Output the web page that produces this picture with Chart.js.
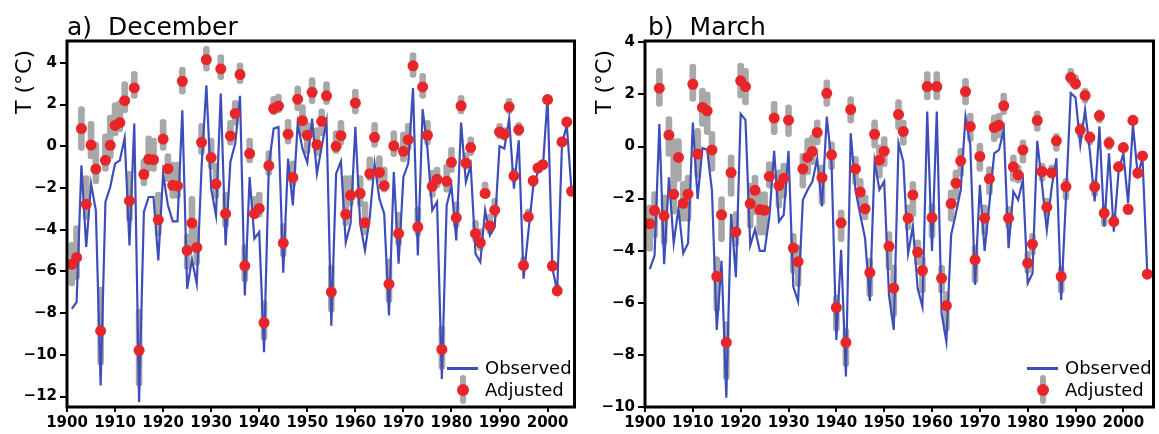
<!DOCTYPE html>
<html>
<head>
<meta charset="utf-8">
<script src="https://cdn.jsdelivr.net/npm/chart.js@4.4.1/dist/chart.umd.min.js"></script>
<style>
  html, body { margin:0; padding:0; background:#fff; }
  #wrap { position:relative; width:1159px; height:434px; overflow:hidden; font-family:"DejaVu Sans", sans-serif; color:#000; }
  .panel { position:absolute; top:0; height:434px; }
  .title { position:absolute; top:14px; font-size:25px; line-height:25px; white-space:nowrap; word-spacing:8px; }
  .ylab { position:absolute; font-size:22px; line-height:22px; white-space:nowrap; transform:translate(-50%,-50%) rotate(-90deg); }
  .legtxt { position:absolute; font-size:18px; line-height:18px; white-space:nowrap; }
  .legline { position:absolute; height:3px; background:#3d4eb8; }
  .leggrey { position:absolute; width:6px; border-radius:3px; background:#a8a8a8; }
  .legdot { position:absolute; width:12px; height:12px; border-radius:6px; background:#e8262a; }
</style>
</head>
<body>
<div id="wrap">
  <div class="panel" style="left:0;width:580px"><canvas id="c1" width="580" height="434"></canvas></div>
  <div class="panel" style="left:580px;width:579px"><canvas id="c2" width="579" height="434"></canvas></div>

  <div class="title" style="left:67px">a) December</div>
  <div class="title" style="left:648px">b) March</div>
  <div class="ylab" style="left:24px;top:82px">T (°C)</div>
  <div class="ylab" style="left:604px;top:82px">T (°C)</div>

  <div class="legline" style="left:447px;top:367px;width:31px"></div>
  <div class="legtxt" style="left:485px;top:359px">Observed</div>
  <div class="leggrey" style="left:460px;top:375px;height:29px"></div>
  <div class="legdot" style="left:457px;top:384px"></div>
  <div class="legtxt" style="left:485px;top:381px">Adjusted</div>

  <div class="legline" style="left:1027px;top:367px;width:31px"></div>
  <div class="legtxt" style="left:1065px;top:359px">Observed</div>
  <div class="leggrey" style="left:1040px;top:375px;height:29px"></div>
  <div class="legdot" style="left:1037px;top:384px"></div>
  <div class="legtxt" style="left:1065px;top:381px">Adjusted</div>
</div>
<script>
// ---------- DATA ----------
const years = [];
for (let y = 1901; y <= 2005; y++) years.push(y);

// December (panel a)
const decAdjusted = [
 -5.66,-5.33,0.85,-2.78,0.06,-1.09,-8.85,-0.67,0.05,1.0,
 1.14,2.19,-2.62,2.8,-9.78,-1.34,-0.62,-0.64,-3.52,0.35,
 -1.07,-1.87,-1.9,3.12,-4.99,-3.68,-4.85,0.19,4.16,-0.54,
 -1.81,3.71,-3.23,0.5,1.57,3.44,-5.73,-0.35,-3.23,-2.98,
 -8.46,-0.93,1.81,1.93,-4.64,0.58,-1.5,2.26,1.23,0.53,
 2.59,0.08,1.2,2.42,-6.99,0.0,0.51,-3.26,-2.35,2.08,
 -2.26,-3.66,-1.31,0.43,-1.25,-1.89,-6.61,0.02,-4.18,-0.24,
 0.32,3.86,-3.87,2.85,0.53,-1.92,-1.58,-9.74,-1.68,-0.77,
 -3.42,1.94,-0.8,-0.06,-4.19,-4.62,-2.26,-3.82,-3.06,0.69,
 0.58,1.89,-1.42,0.8,-5.71,-3.38,-1.65,-1.04,-0.88,2.24,
 -5.74,-6.93,0.21,1.17,-2.16
];
const decObserved = [
 -7.8,-7.47,-0.91,-4.83,-1.79,-3.07,-11.47,-2.67,-1.95,-0.83,
 -0.67,0.4,-4.75,1.09,-12.27,-3.15,-2.43,-2.43,-5.47,-1.31,
 -2.83,-3.6,-3.6,1.73,-6.83,-5.42,-6.59,-1.0,2.93,-2.03,
 -3.31,2.53,-4.75,-0.75,0.13,2.42,-7.15,-1.47,-4.43,-4.11,
 -9.87,-0.91,0.85,0.93,-6.06,-0.59,-2.83,1.09,-0.11,-0.78,
 1.33,-1.31,0.0,1.2,-8.6,-1.31,-0.72,-4.62,-3.71,0.93,
 -3.71,-4.99,-3.39,-0.83,-2.51,-3.23,-8.11,-1.23,-5.63,-1.47,
 -0.83,2.8,-5.23,1.78,-0.11,-3.07,-2.67,-11.15,-2.83,-1.9,
 -4.51,1.14,-1.71,-0.91,-5.15,-5.55,-3.07,-4.27,-3.87,0.0,
 -0.11,1.33,-2.03,0.29,-6.35,-4.11,-1.95,-1.23,-1.07,2.37,
 -5.87,-6.91,0.13,1.0,-2.19
];
const decEnsLow = [
 -6.7,-6.4,-0.2,-3.5,-0.6,-1.8,-10.5,-1.2,-0.6,0.5,
 0.7,1.6,-3.6,2.3,-11.5,-1.9,-1.2,-1.2,-4.3,-0.2,
 -1.7,-2.5,-2.5,2.5,-5.9,-4.9,-5.7,-0.4,3.6,-1.1,
 -2.5,3.2,-3.9,0.05,1.0,3.0,-6.5,-0.8,-3.4,-3.4,
 -9.3,-1.4,1.5,1.6,-5.3,0.1,-1.95,1.7,0.5,-0.35,
 2.05,-0.45,0.5,2.0,-7.95,-0.35,0.05,-3.8,-2.85,1.55,
 -2.9,-4.25,-1.65,-0.05,-1.7,-2.2,-7.5,-0.5,-4.75,-0.75,
 -0.2,3.3,-4.3,2.3,0.05,-2.45,-2.0,-10.7,-2.2,-1.25,
 -3.9,1.55,-1.1,-0.45,-4.6,-5.0,-2.5,-4.2,-3.4,0.35,
 0.3,1.55,-1.7,0.5,-5.95,-3.6,-1.95,-1.2,-1.05,2.05,
 -5.95,-7.15,0.05,0.9,-2.35
];
const decEnsHigh = [
 -4.6,-3.8,1.9,-1.4,1.2,0.2,-6.75,0.6,1.5,2.1,
 2.2,3.1,-1.2,3.6,-7.8,-0.6,0.5,0.4,-2.2,1.3,
 -0.35,-0.75,-0.75,3.8,-4.2,-2.4,-3.8,1.1,4.8,0.4,
 -0.8,4.4,-2.2,1.25,2.2,4.0,-4.7,0.4,-2.4,-2.2,
 -7.4,-0.2,2.4,2.5,-3.7,1.3,-0.7,2.9,2.0,1.15,
 3.3,0.9,1.8,3.1,-5.7,0.75,1.25,-1.4,-1.4,2.75,
 -1.4,-2.65,-0.5,1.15,-0.45,-1.0,-5.4,0.75,-3.15,0.7,
 1.1,4.5,-2.9,3.5,1.25,-1.15,-1.0,-8.6,-0.85,-0.05,
 -2.65,2.45,-0.3,0.45,-3.55,-3.95,-1.7,-3.25,-2.5,1.1,
 0.9,2.3,-1.05,1.15,-5.3,-3.0,-1.4,-0.8,-0.65,2.45,
 -5.45,-6.6,0.45,1.4,-1.95
];

// March (panel b)
const marAdjusted = [
 -2.97,-2.46,2.24,-2.66,0.44,-1.83,-0.42,-2.18,-1.83,2.39,
 -0.29,1.5,1.37,-0.13,-4.99,-2.62,-7.52,-1.0,-3.28,2.52,
 2.3,-2.19,-1.68,-2.42,-2.45,-1.15,1.09,-1.5,-1.22,1.01,
 -3.9,-4.42,-0.86,-0.42,-0.19,0.54,-1.19,2.04,-0.32,-6.18,
 -2.93,-7.52,1.42,-0.86,-1.75,-2.39,-4.84,0.47,-0.52,-0.18,
 -3.83,-5.44,1.23,0.58,-2.75,-1.86,-4.06,-4.76,2.3,-2.73,
 2.3,-5.06,-6.11,-2.19,-1.41,-0.55,2.11,0.77,-4.35,-0.38,
 -2.75,-1.24,0.73,0.82,1.56,-2.75,-0.78,-1.09,-0.13,-4.48,
 -3.75,1.0,-0.96,-2.33,-1.01,0.22,-4.99,-1.54,2.65,2.41,
 0.63,1.96,0.35,-1.55,1.18,-2.56,0.13,-2.88,-0.78,-0.04,
 -2.41,1.0,-1.02,-0.36,-4.9
];
const marObserved = [
 -4.71,-4.19,0.86,-4.52,-1.18,-3.71,-2.37,-4.1,-3.71,0.92,
 -2.01,-0.06,-0.13,-1.7,-7.04,-4.39,-9.64,-2.59,-5.02,1.25,
 1.02,-3.8,-3.18,-4.01,-4.01,-2.7,-0.17,-2.88,-2.62,-0.17,
 -5.38,-5.95,-2.05,-1.66,-1.34,-0.47,-2.3,1.15,-0.64,-7.43,
 -3.97,-8.83,0.51,-1.66,-2.62,-3.52,-5.93,-0.58,-1.66,-1.34,
 -5.7,-7.04,0.13,-0.58,-4.1,-3.07,-5.44,-6.15,1.34,-4.01,
 1.34,-6.4,-7.49,-3.39,-2.56,-1.66,1.15,0.06,-5.31,-1.47,
 -4.01,-2.18,-0.26,-0.13,0.64,-3.9,-1.73,-2.05,-1.28,-5.25,
 -4.87,0.22,-1.47,-3.2,-1.6,-0.45,-5.89,-1.98,2.05,1.88,
 0.06,1.41,-0.19,-2.11,0.77,-3.07,-0.26,-3.27,-0.96,-0.26,
 -2.18,0.83,-1.09,-0.45,-4.87
];
const marEnsLow = [
 -4.03,-3.52,1.54,-3.78,-0.38,-2.6,-1.34,-2.88,-2.88,1.73,
 -1.2,0.77,0.45,-0.96,-6.34,-3.65,-8.96,-1.92,-3.84,1.86,
 1.6,-3.14,-2.62,-3.4,-3.4,-1.6,0.45,-2.37,-1.98,0.38,
 -4.87,-5.38,-1.6,-1.09,-0.7,0.06,-2.24,1.54,-0.9,-7.1,
 -3.65,-8.45,0.9,-1.47,-2.24,-2.82,-5.76,-0.06,-1.22,-0.77,
 -4.74,-6.53,0.64,0.0,-3.2,-2.69,-4.55,-5.63,1.79,-3.52,
 1.79,-5.63,-7.1,-2.88,-2.05,-1.15,1.6,0.19,-5.25,-0.96,
 -3.39,-1.86,0.19,0.32,1.22,-3.14,-1.34,-1.41,-0.64,-4.87,
 -4.16,0.58,-1.34,-2.69,-1.22,-0.19,-5.63,-2.05,2.37,2.18,
 0.32,1.66,0.06,-1.92,0.9,-3.07,-0.13,-3.0,-0.96,-0.19,
 -2.62,0.83,-1.15,-0.51,-5.0
];
const marEnsHigh = [
 -2.24,-1.73,3.0,-1.86,1.15,0.3,0.3,-1.34,-1.1,3.16,
 0.7,2.24,2.1,0.58,-4.23,-1.92,-6.72,-0.32,-2.5,3.2,
 3.0,-1.4,-1.1,-1.73,-1.73,-0.58,1.73,-0.9,-0.64,1.6,
 -3.33,-3.78,-0.26,0.32,0.45,1.02,-0.7,2.56,0.19,-5.7,
 -2.43,-6.98,1.92,-0.38,-1.22,-1.86,-4.29,1.02,0.06,0.38,
 -3.27,-4.55,1.8,1.02,-2.24,-1.34,-3.58,-4.23,2.88,-2.18,
 2.88,-4.55,-5.57,-1.66,-0.9,-0.06,2.62,1.28,-3.78,0.13,
 -2.24,-0.77,1.22,1.28,2.05,-2.3,-0.32,-0.7,0.26,-4.03,
 -3.33,1.37,-0.64,-1.98,-0.7,0.51,-4.61,-1.22,3.0,2.75,
 0.9,2.24,0.58,-1.28,1.41,-2.3,0.38,-2.62,-0.58,0.13,
 -2.24,1.22,-0.83,-0.19,-4.74
];

const xTickStep = 10;
const yTickStep = 2;

// ---------- STYLE ----------
const BLUE = '#3d4eb8', RED = '#e8262a', GREY = '#a8a8a8';
const tickFont = { family: 'DejaVu Sans', weight: 'bold', size: 15 };

function minusFmt(v) { return v < 0 ? '\u2212' + Math.abs(v) : String(v); }

const framePlugin = {
  id: 'frame',
  afterDraw(chart) {
    const { ctx, chartArea: a } = chart;
    ctx.save();
    ctx.strokeStyle = '#000';
    ctx.lineWidth = 3;
    ctx.strokeRect(a.left, a.top, a.right - a.left, a.bottom - a.top);
    ctx.restore();
  }
};

function makeChart(id, adj, obs, lo, hi, yMin, yMax, xMax, yWidth, padRight) {
  const ens = years.map((y, i) => ({ x: y, y: [lo[i], hi[i]] }));
  const adjPts = years.map((y, i) => ({ x: y, y: adj[i] }));
  const obsPts = years.map((y, i) => ({ x: y, y: obs[i] }));
  return new Chart(document.getElementById(id), {
    type: 'line',
    data: {
      datasets: [
        { type: 'line', label: 'Adjusted', data: adjPts, showLine: false,
          pointRadius: 5.5, pointHoverRadius: 5.5, pointBackgroundColor: RED,
          pointBorderWidth: 0, borderColor: RED, order: 0 },
        { type: 'line', label: 'Observed', data: obsPts, borderColor: BLUE,
          borderWidth: 2.2, pointRadius: 0, tension: 0, fill: false, order: 1 },
        { type: 'bar', label: 'Ensemble', data: ens, backgroundColor: GREY,
          barThickness: 6, borderRadius: 3, borderSkipped: false, order: 2 }
      ]
    },
    options: {
      responsive: false,
      animation: false,
      events: [],
      layout: { padding: { top: 41, right: padRight, left: 0, bottom: 0 } },
      plugins: { legend: { display: false }, tooltip: { enabled: false }, title: { display: false } },
      scales: {
        x: {
          type: 'linear', min: 1900, max: xMax, offset: false,
          ticks: { stepSize: xTickStep, includeBounds: false, autoSkip: false, maxRotation: 0,
                   font: tickFont, color: '#000', padding: 2, callback: v => String(v) },
          grid: { offset: false, drawOnChartArea: false, drawTicks: true, tickLength: 5, color: '#000', lineWidth: 2 },
          border: { display: false },
          afterFit: s => { s.height = 27; }
        },
        y: {
          type: 'linear', min: yMin, max: yMax,
          ticks: { stepSize: yTickStep, includeBounds: false, font: tickFont, color: '#000',
                   padding: 3, callback: v => minusFmt(v) },
          grid: { drawOnChartArea: false, drawTicks: true, tickLength: 7, color: '#000', lineWidth: 2 },
          border: { display: false },
          afterFit: s => { s.width = yWidth; }
        }
      }
    },
    plugins: [framePlugin]
  });
}

makeChart('c1', decAdjusted, decObserved, decEnsLow, decEnsHigh, -12.5, 5.05, 2005.6, 67, 3);
makeChart('c2', marAdjusted, marObserved, marEnsLow, marEnsHigh, -10, 4.05, 2006.3, 65, 1.5);
</script>
</body>
</html>
